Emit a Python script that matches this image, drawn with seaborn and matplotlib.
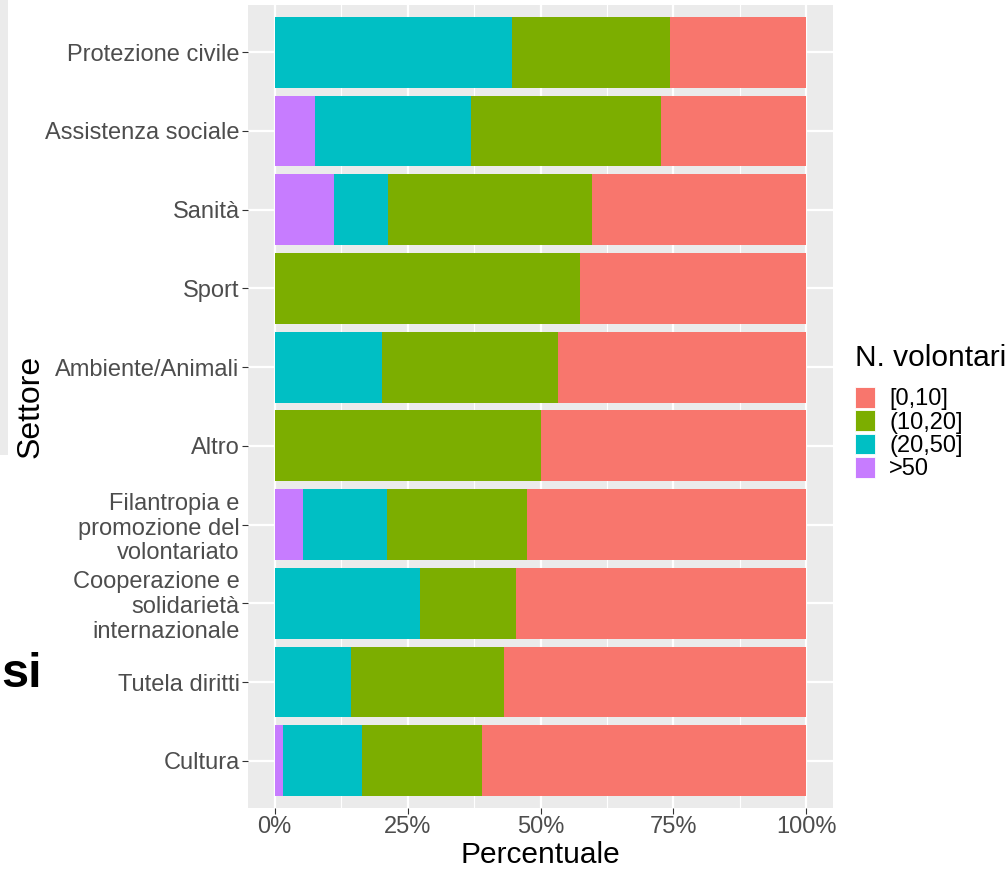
import numpy as np
import pandas as pd
import matplotlib
matplotlib.use("Agg")
import matplotlib.pyplot as plt
import seaborn as sns
from matplotlib.patches import Patch, Rectangle

# data (shares per sector, in %)
settori = [
    "Protezione civile",
    "Assistenza sociale",
    "Sanità",
    "Sport",
    "Ambiente/Animali",
    "Altro",
    "Filantropia e\npromozione del\nvolontariato",
    "Cooperazione e\nsolidarietà\ninternazionale",
    "Tutela diritti",
    "Cultura",
]
classi = ["[0,10]", "(10,20]", "(20,50]", ">50"]
p_over50 = [0.0, 7.6, 11.1, 0.0, 0.0, 0.0, 5.3, 0.0, 0.0, 1.5]
p_20_50 = [44.6, 29.4, 10.2, 0.0, 20.2, 0.0, 15.8, 27.3, 14.4, 14.9]
p_10_20 = [29.8, 35.7, 38.3, 57.4, 33.1, 50.0, 26.4, 18.1, 28.8, 22.6]
p_0_10 = [100 - a - b - c for a, b, c in zip(p_over50, p_20_50, p_10_20)]

colori = ["#F8766D", "#7CAE00", "#00BFC4", "#C77CFF"]

df = pd.DataFrame({
    "Settore": settori,
    ">50": p_over50,
    "(20,50]": p_20_50,
    "(10,20]": p_10_20,
    "[0,10]": p_0_10,
})
# cumulative from the left: >50, (20,50], (10,20], [0,10]
df["c1"] = df[">50"]
df["c2"] = df["c1"] + df["(20,50]"]
df["c3"] = df["c2"] + df["(10,20]"]
df["c4"] = df["c3"] + df["[0,10]"]

plt.rcParams["font.family"] = ["Liberation Sans", "DejaVu Sans"]

fig = plt.figure(figsize=(10.07, 8.75), dpi=100)
ax = fig.add_axes([248 / 1007, 67 / 875, 585 / 1007, 803 / 875])
ax.set_facecolor("#EBEBEB")

# draw layers from longest to shortest so they stack visually
for col, c in zip(["c4", "c3", "c2", "c1"], colori):
    sns.barplot(data=df, x=col, y="Settore", color=c, orient="h",
                width=0.9, saturation=1, ax=ax, zorder=3)

ax.set_xlim(-5, 105)
ax.set_ylim(len(settori) - 0.4, -0.6)
ax.set_xticks([0, 25, 50, 75, 100])
ax.set_xticklabels(["0%", "25%", "50%", "75%", "100%"])
ax.set_xticks([12.5, 37.5, 62.5, 87.5], minor=True)
ax.grid(True, which="major", color="white", linewidth=1.6, zorder=0)
ax.grid(True, which="minor", axis="x", color="white", linewidth=0.8, zorder=0)
ax.set_axisbelow(True)
for s in ax.spines.values():
    s.set_visible(False)
ax.tick_params(axis="both", which="major", length=4, color="#333333",
               labelcolor="#4D4D4D", labelsize=17, pad=2)
ax.tick_params(axis="both", which="minor", length=0)
ax.set_xlabel("Percentuale", fontsize=21.5, color="black", labelpad=2)
ax.set_ylabel("Settore", fontsize=23, color="black", labelpad=0)
for lab in ax.get_yticklabels():
    lab.set_linespacing(1.17)

# legend: title as separate text, keys with the library legend
fig.text(855 / 1007, 1 - 366 / 875, "N. volontari", fontsize=21.5,
         color="black", ha="left", va="baseline")
handles = [Patch(facecolor=c, edgecolor="white", linewidth=0.6) for c in colori]
leg = fig.legend(handles, classi, loc="upper left",
                 bbox_to_anchor=(855 / 1007, 1 - 387 / 875), frameon=False,
                 fontsize=17, handlelength=0.85, handleheight=0.96,
                 labelspacing=0.0, handletextpad=0.6,
                 borderaxespad=0, borderpad=0)

# remnants of the slide behind the screenshot
fig.patches.append(Rectangle((0, 1 - 455 / 875), 8 / 1007, 455 / 875,
                             transform=fig.transFigure, facecolor="#EBEBEB",
                             edgecolor="none"))
fig.text(0.001, 1 - 687 / 875, "si", fontsize=35, fontweight="bold",
         color="black", ha="left", va="baseline")

fig.savefig("out.png", dpi=100)
